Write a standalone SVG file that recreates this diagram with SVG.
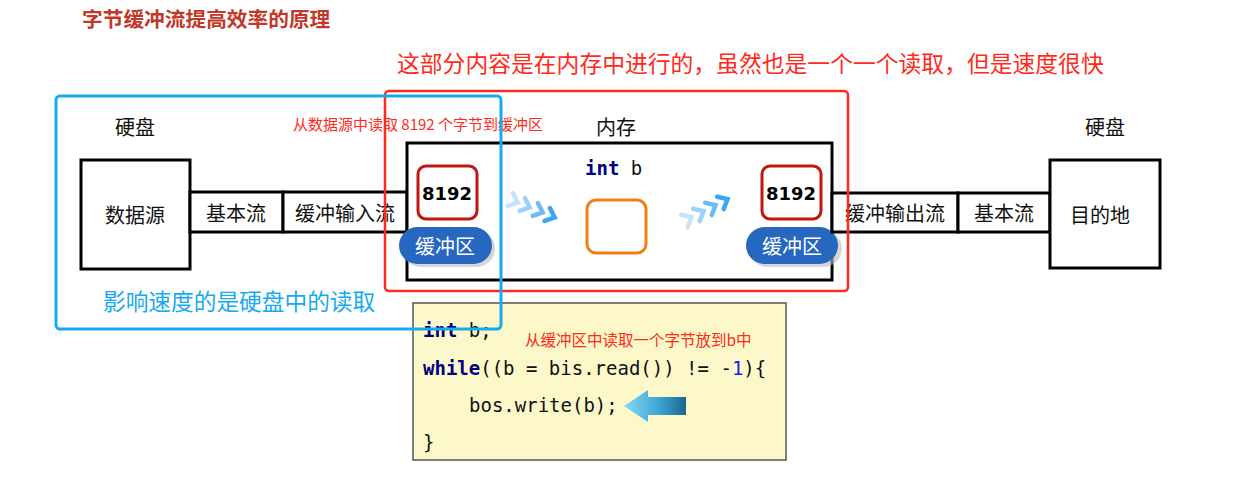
<svg xmlns="http://www.w3.org/2000/svg" width="1247" height="496" viewBox="0 0 1247 496">
<defs>
<style>
.cn{font-family:"Noto Sans CJK SC","Liberation Sans",sans-serif;}
.lbl{font-family:"Noto Sans CJK SC","Liberation Sans",sans-serif;font-size:20px;fill:#111;text-anchor:middle;dominant-baseline:central;}
.box{fill:#fff;stroke:#000;stroke-width:3;}
.num{fill:#fff;stroke:#c0170f;stroke-width:3;}
.numt{font-family:"DejaVu Sans","Liberation Sans",sans-serif;font-weight:bold;font-size:18px;fill:#000;text-anchor:middle;dominant-baseline:central;}
.pill{fill:#2667c0;}
.pillsh{fill:#bbb;opacity:0.6;}
.pillt{font-family:"Noto Sans CJK SC","Liberation Sans",sans-serif;font-size:20px;fill:#fff;text-anchor:middle;dominant-baseline:central;}
.code{font-family:"DejaVu Sans Mono","Liberation Mono",monospace;font-size:19px;fill:#111;}
.kw{font-weight:bold;fill:#000080;}
.chev{fill:none;stroke:#3aa6f5;stroke-width:4.5;stroke-linecap:round;stroke-linejoin:miter;}
</style>
<path id="chev" d="M-4,-7 L4,0 L-4,7"/>
<linearGradient id="arrowGrad" x1="0" y1="0" x2="1" y2="0">
<stop offset="0" stop-color="#86d8f7"/>
<stop offset="0.55" stop-color="#3fa6d6"/>
<stop offset="1" stop-color="#1a6790"/>
</linearGradient>
</defs>
<rect width="1247" height="496" fill="#fff"/>

<g id="title">
<text class="cn" x="82" y="27" font-size="20.7" font-weight="bold" fill="#c2392b">字节缓冲流提高效率的原理</text>
</g>

<g id="memory-note">
<text class="cn" x="397" y="72" font-size="22.8" fill="#ff2a1a">这部分内容是在内存中进行的，虽然也是一个一个读取，但是速度很快</text>
</g>

<g id="disk-left-label"><text class="lbl" x="135" y="126">硬盘</text></g>
<g id="disk-right-label"><text class="lbl" x="1105" y="126">硬盘</text></g>
<g id="memory-label"><text class="lbl" x="616" y="126">内存</text></g>
<g id="read-note"><text class="cn" x="293" y="130" font-size="15" fill="#ff2a1a">从数据源中读取 8192 个字节到缓冲区</text></g>

<g id="code-box">
<rect x="413" y="303" width="373" height="157" fill="#fdf8c9" stroke="#555" stroke-width="1.5"/>
<text class="code" x="423" y="337"><tspan class="kw">int</tspan> b;</text>
<text class="code" x="423" y="375"><tspan class="kw">while</tspan>((b = bis.read()) != -<tspan fill="#1a1aff">1</tspan>){</text>
<text class="code" x="469" y="412">bos.write(b);</text>
<text class="code" x="423" y="449">}</text>
<text class="cn" x="525" y="346" font-size="15.5" fill="#ff2a1a">从缓冲区中读取一个字节放到b中</text>
</g>

<g id="source">
<rect class="box" x="81" y="160" width="109" height="109"/>
<text class="lbl" x="135" y="214">数据源</text>
</g>
<g id="basic-in">
<rect class="box" x="190" y="192" width="93" height="40"/>
<text class="lbl" x="236" y="212">基本流</text>
</g>
<g id="buffered-in">
<rect class="box" x="283" y="192" width="124" height="40"/>
<text class="lbl" x="345" y="212">缓冲输入流</text>
</g>

<g id="memory">
<rect class="box" x="407" y="143" width="425" height="137"/>
<text x="585" y="175" class="code" font-size="16"><tspan class="kw">int</tspan> b</text>
</g>

<g id="buffer-left">
<rect class="num" x="418" y="166" width="59" height="53" rx="8"/>
<text class="numt" x="447" y="193">8192</text>
<rect class="pillsh" x="402" y="230" width="93" height="37" rx="18.5"/>
<rect class="pill" x="399" y="227" width="93" height="37" rx="18.5"/>
<text class="pillt" x="445" y="245">缓冲区</text>
</g>

<g id="variable-b">
<rect x="587" y="200" width="59" height="53" rx="9" fill="#fff" stroke="#f0800f" stroke-width="3"/>
</g>

<g id="buffer-right">
<rect class="num" x="762" y="166" width="59" height="53" rx="8"/>
<text class="numt" x="791" y="193">8192</text>
<rect class="pillsh" x="749" y="230" width="93" height="37" rx="18.5"/>
<rect class="pill" x="746" y="227" width="92" height="37" rx="18.5"/>
<text class="pillt" x="792" y="245">缓冲区</text>
</g>

<g id="buffered-out">
<rect class="box" x="832" y="193" width="126" height="39"/>
<text class="lbl" x="895" y="212">缓冲输出流</text>
</g>
<g id="basic-out">
<rect class="box" x="958" y="193" width="92" height="39"/>
<text class="lbl" x="1004" y="212">基本流</text>
</g>
<g id="destination">
<rect class="box" x="1050" y="160" width="110" height="108"/>
<text class="lbl" x="1100" y="214">目的地</text>
</g>

<g id="connectors">
<use href="#chev" class="chev" opacity="0.3" transform="translate(514,201) rotate(22)"/>
<use href="#chev" class="chev" opacity="0.5" transform="translate(526,206) rotate(22)"/>
<use href="#chev" class="chev" opacity="0.75" transform="translate(539,211) rotate(22)"/>
<use href="#chev" class="chev" opacity="1" transform="translate(551,216) rotate(22)"/>
<use href="#chev" class="chev" opacity="0.3" transform="translate(688,219) rotate(-28)"/>
<use href="#chev" class="chev" opacity="0.5" transform="translate(700,213) rotate(-28)"/>
<use href="#chev" class="chev" opacity="0.75" transform="translate(712,207) rotate(-28)"/>
<use href="#chev" class="chev" opacity="1" transform="translate(724,201) rotate(-28)"/>
<path d="M624,406 L648,390 L648,397 L686,397 L686,415 L648,415 L648,422 Z" fill="url(#arrowGrad)"/>
</g>

<g id="memory-region">
<rect x="385" y="91" width="463" height="200" rx="4" fill="none" stroke="#ff2a1a" stroke-width="2.5"/>
</g>

<g id="disk-region">
<rect x="56" y="96" width="445" height="233" rx="4" fill="none" stroke="#16aaf0" stroke-width="3"/>
<text class="cn" x="103" y="310" font-size="22.7" fill="#16aaf0">影响速度的是硬盘中的读取</text>
</g>
</svg>
